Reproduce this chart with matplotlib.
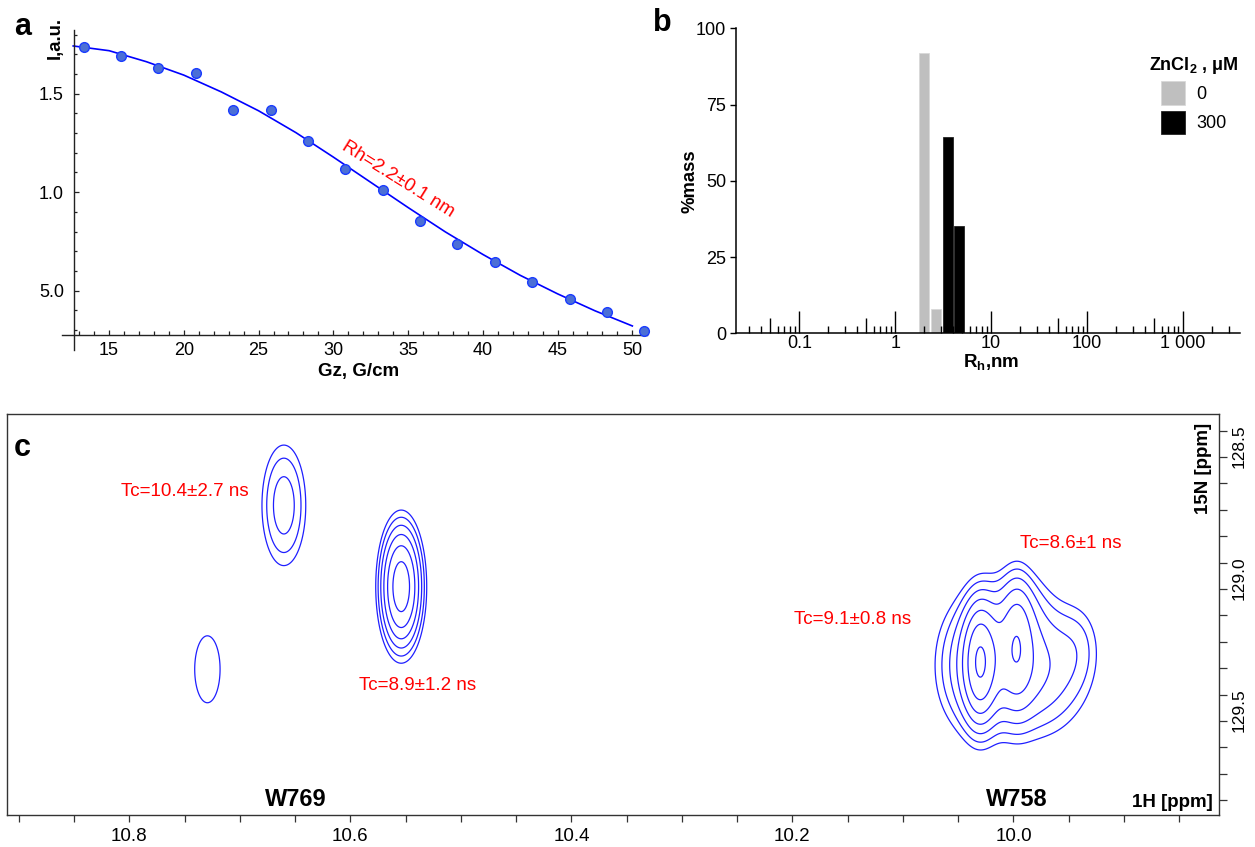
import numpy as np
import matplotlib

matplotlib.use("Agg")
import matplotlib.pyplot as plt
from matplotlib.ticker import (FixedFormatter, FixedLocator, FormatStrFormatter,
                               MultipleLocator, NullFormatter, NullLocator)

plt.rcParams["font.family"] = ["Liberation Sans", "DejaVu Sans"]
plt.rcParams["mathtext.fontset"] = "custom"
plt.rcParams["mathtext.rm"] = "Liberation Sans"
plt.rcParams["mathtext.bf"] = "Liberation Sans:bold"
plt.rcParams["mathtext.it"] = "Liberation Sans:italic"

W, H = 1255, 847

# (a) PFG-NMR signal decay vs gradient strength
gz = [13.3, 15.8, 18.3, 20.8, 23.3, 25.8, 28.3, 30.8,
      33.3, 35.8, 38.3, 40.8, 43.3, 45.8, 48.3, 50.8]
intensity = [1.735, 1.693, 1.632, 1.606, 1.417, 1.417, 1.261, 1.119,
             1.009, 0.855, 0.735, 0.645, 0.544, 0.458, 0.390, 0.295]
fit_gz = [12.6, 15.0, 17.5, 20.0, 22.5, 25.0, 27.5, 30.0,
          32.5, 35.0, 37.5, 40.0, 42.5, 45.0, 47.5, 50.0]
fit_intensity = [1.742, 1.718, 1.662, 1.594, 1.509, 1.413, 1.302, 1.178,
                 1.050, 0.922, 0.798, 0.684, 0.578, 0.484, 0.398, 0.321]
gz_ticks = [15, 20, 25, 30, 35, 40, 45, 50]
i_ticks = [0.5, 1.0, 1.5]
i_ticklabels = ["5.0", "1.0", "1.5"]

# (b) DLS mass distribution
rh_free = [2.02, 2.68]
mass_free = [91.8, 7.9]
rh_zn = [3.53, 4.66]
mass_zn = [64.3, 35.3]
rh_ticks = [0.1, 1, 10, 100, 1000]
rh_ticklabels = ["0.1", "1", "10", "100", "1 000"]
zn_labels = ["0", "300"]

# (c) 1H-15N cross peaks: centre (ppm), line widths (ppm), height
peak_h1 = [10.7294, 10.6602, 10.554,
           10.0305, 9.9967, 10.003, 10.0481, 9.9579, 9.938, 9.994]
peak_n15 = [129.404, 128.783, 129.091,
            129.376, 129.290, 129.369, 129.406, 129.463, 129.293, 129.141]
peak_h1_width = [0.019, 0.017, 0.01346,
                 0.0099, 0.0099, 0.0379, 0.0226, 0.0307, 0.0162, 0.018]
peak_n15_width = [0.21, 0.196, 0.1693,
                  0.159, 0.182, 0.2083, 0.2083, 0.1894, 0.1326, 0.1136]
peak_height = [1.2, 1.97, 4.34,
               2.6, 1.15, 2.3, 0.9, 0.7, 0.6, 0.5]
contour_base = 1.0
contour_factor = 1.3
contour_count = 7


def fpos(x, y):
    return x / W, 1 - y / H


def label(fig, x, y, s, **kw):
    fx, fy = fpos(x, y)
    kw.setdefault("ha", "center")
    kw.setdefault("va", "center")
    return fig.text(fx, fy, s, **kw)


fig = plt.figure(figsize=(W / 100, H / 100), dpi=100)

# ---------------- panel a ----------------
ax = fig.add_axes([62.3 / W, 1 - 350 / H, 584.4 / W, 320 / H])
ax.plot(fit_gz, fit_intensity, color="#0000ff", lw=1.2, zorder=2)
ax.plot(gz, intensity, "o", ms=7, mfc="#4b6fd6", mec="#1a3cff", mew=1.0,
        zorder=3, clip_on=False)
ax.set_xlim(11.87, 50.96)
ax.set_ylim(0.199, 1.823)
for s in ("top", "right"):
    ax.spines[s].set_visible(False)
ax.spines["left"].set_position(("data", 12.63))
ax.spines["bottom"].set_position(("data", 0.275))
for s in ("left", "bottom"):
    ax.spines[s].set_linewidth(1.0)
    ax.spines[s].set_color("#222222")
ax.set_xticks(gz_ticks)
ax.xaxis.set_minor_locator(FixedLocator(np.arange(13, 51)))
ax.set_yticks(i_ticks, i_ticklabels)
ax.yaxis.set_minor_locator(FixedLocator(np.arange(0.3, 1.85, 0.1)))
ax.tick_params(axis="x", which="major", direction="in", length=3.6, width=0.9,
               pad=5, labelsize=13, color="#222222")
ax.tick_params(axis="x", which="minor", direction="in", length=3, width=0.9,
               color="#222222")
ax.tick_params(axis="y", which="major", direction="in", length=3.6, width=0.9,
               pad=7, labelsize=13, color="#222222")
ax.tick_params(axis="y", which="minor", direction="in", length=2.2, width=0.9,
               color="#222222")

label(fig, 22.5, 27, "a", fontsize=22, fontweight="bold")
label(fig, 55, 38, "I,a.u.", fontsize=13.3, fontweight="bold", rotation=90)
label(fig, 359, 371, "Gz, G/cm", fontsize=13.5, fontweight="bold")
label(fig, 398, 179, "Rh=2.2±0.1 nm", fontsize=13.5, color="#ff0000",
      rotation=-32, rotation_mode="anchor")

# ---------------- panel b ----------------
axb = fig.add_axes([735.7 / W, 1 - 333.3 / H, 504.3 / W, 305 / H])
axb.set_xscale("log")
bar_half = 0.052  # half bar width in decades


def log_bars(axis, centers, heights, **kw):
    c = np.asarray(centers, dtype=float)
    left = c * 10 ** -bar_half
    right = c * 10 ** bar_half
    return axis.bar(left, heights, width=right - left, align="edge", **kw)


log_bars(axb, rh_free, mass_free, color="#bfbfbf", edgecolor="#d9d9d9",
         lw=0.6, label=zn_labels[0])
log_bars(axb, rh_zn, mass_zn, color="#000000", edgecolor="#222222",
         lw=0.6, label=zn_labels[1])
axb.set_xlim(0.0217, 3950)
axb.set_ylim(0, 100)
for s in ("top", "right"):
    axb.spines[s].set_visible(False)
for s in ("left", "bottom"):
    axb.spines[s].set_linewidth(1.1)
axb.xaxis.set_major_locator(FixedLocator(rh_ticks))
axb.xaxis.set_major_formatter(FixedFormatter(rh_ticklabels))
minor_rh = [m * 10.0 ** e for e in range(-2, 4) for m in (2, 3, 4, 6, 7, 8, 9)]
axb.xaxis.set_minor_locator(FixedLocator(minor_rh))
axb.xaxis.set_minor_formatter(NullFormatter())
axb.tick_params(axis="x", which="major", direction="in", length=15.6, width=1.0,
                pad=1.0, labelsize=13)
axb.tick_params(axis="x", which="minor", direction="in", length=5.3, width=1.0)
axb.set_yticks([0, 25, 50, 75, 100])
axb.tick_params(axis="y", direction="out", length=4.3, width=1.0, pad=2.5,
                labelsize=13)

# medium ticks at 5 x 10^n
sec = axb.secondary_xaxis("bottom")
sec.set_xticks([0.05, 0.5, 5, 50, 500])
sec.xaxis.set_minor_locator(NullLocator())
sec.tick_params(direction="in", length=10.8, width=1.0, labelbottom=False)
sec.spines["bottom"].set_visible(False)

axb.legend(title="ZnCl$_\\mathbf{2}$ , μM", loc="upper center",
           bbox_to_anchor=fpos(1194, 46), bbox_transform=fig.transFigure,
           frameon=False, fontsize=13,
           title_fontproperties={"weight": "bold", "size": 13},
           handlelength=1.3, handleheight=1.65, labelspacing=0.3,
           handletextpad=0.65, borderpad=0, alignment="center")

label(fig, 662, 23, "b", fontsize=22, fontweight="bold")
label(fig, 690, 181, "%mass", fontsize=13.3, fontweight="bold", rotation=90)
label(fig, 991, 362, "R$_\\mathbf{h}$,nm", fontsize=13.5, fontweight="bold")

# ---------------- panel c ----------------
axc = fig.add_axes([6.7 / W, 1 - 815 / H, 1212.3 / W, 401 / H])
h1 = np.linspace(9.80, 10.95, 1200)
n15 = np.linspace(128.40, 130.00, 600)
HH, NN = np.meshgrid(h1, n15)
spec = np.zeros_like(HH)
for x0, y0, sx, sy, a in zip(peak_h1, peak_n15, peak_h1_width,
                             peak_n15_width, peak_height):
    spec += a * np.exp(-((HH - x0) ** 2 / (2 * sx ** 2)
                         + (NN - y0) ** 2 / (2 * sy ** 2)))
levels = contour_base * contour_factor ** np.arange(contour_count)
axc.contour(HH, NN, spec, levels=levels, colors="#1f1fff", linewidths=0.9)

axc.set_xlim(10.911, 9.814)
axc.set_ylim(129.956, 128.437)
for s in axc.spines.values():
    s.set_linewidth(1.0)
    s.set_color("#333333")
axc.xaxis.set_major_locator(MultipleLocator(0.2))
axc.xaxis.set_major_formatter(FormatStrFormatter("%.1f"))
axc.xaxis.set_minor_locator(MultipleLocator(0.05))
axc.yaxis.tick_right()
axc.yaxis.set_major_locator(MultipleLocator(0.5))
axc.yaxis.set_major_formatter(FormatStrFormatter("%.1f"))
axc.yaxis.set_minor_locator(MultipleLocator(0.1))
axc.tick_params(axis="x", which="both", direction="out", length=4.8, width=0.9,
                pad=4.3, labelsize=13.5, color="#333333")
axc.tick_params(axis="y", which="both", direction="out", length=5.8, width=0.9,
                pad=3.3, labelsize=12.5, labelrotation=90, color="#333333")

label(fig, 22, 448, "c", fontsize=22, fontweight="bold")
label(fig, 295.7, 799.5, "W769", fontsize=17, fontweight="bold")
label(fig, 1016.7, 799.5, "W758", fontsize=17, fontweight="bold")
label(fig, 1213, 802.5, "1H [ppm]", fontsize=13.5, fontweight="bold", ha="right")
label(fig, 1203, 468, "15N [ppm]", fontsize=13.5, fontweight="bold", rotation=90)
red = "#ff0000"
label(fig, 185, 491, "Tc=10.4±2.7 ns", fontsize=13.5, color=red)
label(fig, 418, 685.5, "Tc=8.9±1.2 ns", fontsize=13.5, color=red)
label(fig, 853, 619, "Tc=9.1±0.8 ns", fontsize=13.5, color=red)
label(fig, 1071, 543.3, "Tc=8.6±1 ns", fontsize=13.5, color=red)

fig.savefig("out.png", dpi=100)
